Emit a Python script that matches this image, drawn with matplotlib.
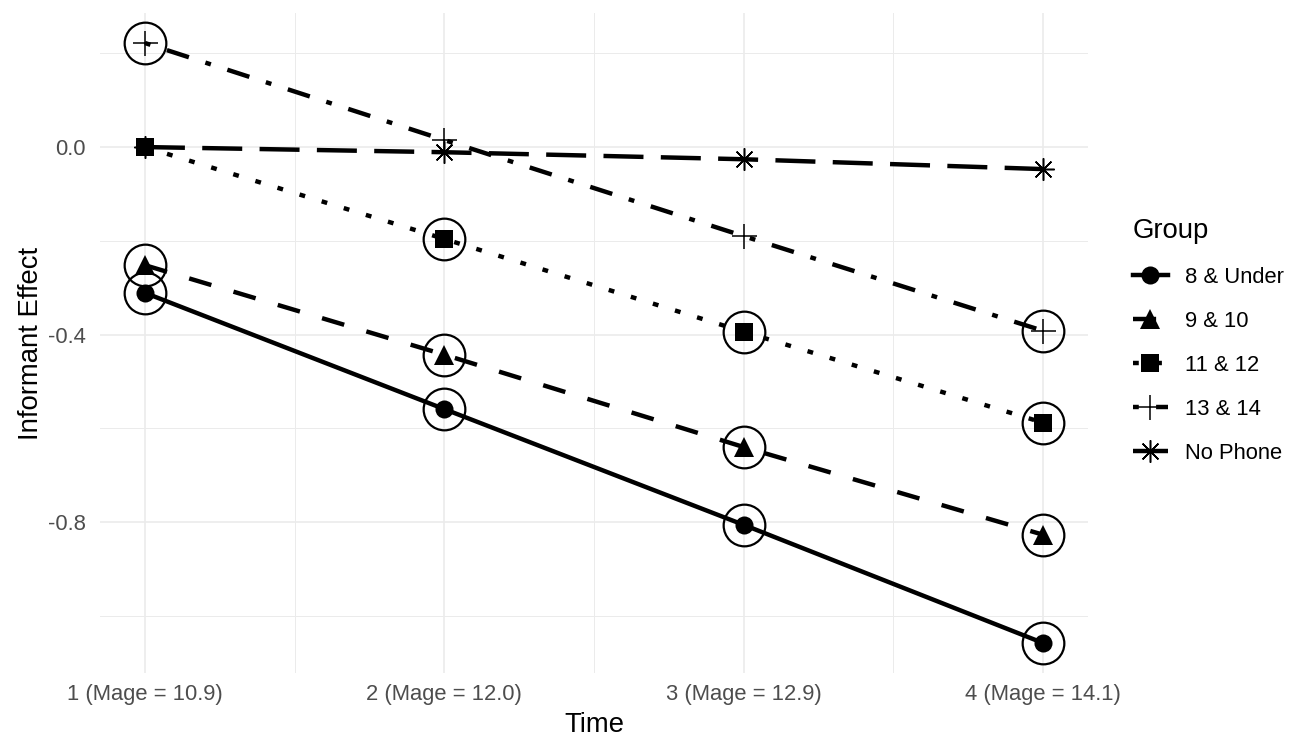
import matplotlib
matplotlib.use("Agg")
import matplotlib.pyplot as plt
from matplotlib.lines import Line2D

# data
times = [1, 2, 3, 4]
time_labels = ["1 (Mage = 10.9)", "2 (Mage = 12.0)", "3 (Mage = 12.9)", "4 (Mage = 14.1)"]
groups = ["8 & Under", "9 & 10", "11 & 12", "13 & 14", "No Phone"]
effects = {
    "8 & Under": [-0.311, -0.559, -0.806, -1.058],
    "9 & 10": [-0.252, -0.443, -0.640, -0.827],
    "11 & 12": [0.000, -0.196, -0.394, -0.588],
    "13 & 14": [0.222, 0.015, -0.190, -0.392],
    "No Phone": [0.000, -0.011, -0.026, -0.047],
}
significant = {
    "8 & Under": [True, True, True, True],
    "9 & 10": [True, True, True, True],
    "11 & 12": [False, True, True, True],
    "13 & 14": [True, False, False, True],
    "No Phone": [False, False, False, False],
}
y_ticks = [0.0, -0.4, -0.8]
y_tick_labels = ["0.0", "-0.4", "-0.8"]

plt.rcParams["font.family"] = ["Liberation Sans", "DejaVu Sans"]

# ggplot-like line types (units of line width)
styles = {
    "8 & Under": dict(ls="-", marker="o", ms=13, mew=0),
    "9 & 10": dict(ls=(0, (5.2, 5.2)), marker="^", ms=15, mew=0),
    "11 & 12": dict(ls=(0, (1.3, 3.9)), marker="s", ms=13, mew=0),
    "13 & 14": dict(ls=(0, (1.3, 3.9, 5.2, 3.9)), marker="+", ms=18, mew=1.1),
    "No Phone": dict(ls=(0, (9.0, 3.9)), marker=(8, 2, 0), ms=16, mew=1.1),
}
LW = 3.2

fig = plt.figure(figsize=(12.93, 7.40), dpi=100)
ax = fig.add_axes([100 / 1293, 1 - 673 / 740, 988 / 1293, 660 / 740])

handles = []
for g in groups:
    st = styles[g]
    ax.plot(times, effects[g], color="black", lw=LW, linestyle=st["ls"],
            dash_capstyle="butt", solid_capstyle="butt", zorder=3)
    ax.plot(times, effects[g], color="black", lw=0, marker=st["marker"],
            ms=st["ms"], mew=st["mew"], mec="black", mfc="black", zorder=4)
    sx = [t for t, s in zip(times, significant[g]) if s]
    sy = [v for v, s in zip(effects[g], significant[g]) if s]
    ax.plot(sx, sy, lw=0, marker="o", ms=30, mfc="none", mec="black",
            mew=1.6, zorder=5)
    handles.append(Line2D([], [], color="black", lw=LW, linestyle=st["ls"],
                          dash_capstyle="butt", marker=st["marker"],
                          ms=st["ms"], mew=st["mew"], mfc="black",
                          mec="black"))

ax.set_xlim(0.85, 4.15)
ax.set_ylim(-1.122, 0.286)
ax.set_xticks(times)
ax.set_xticklabels(time_labels)
ax.set_xticks([1.5, 2.5, 3.5], minor=True)
ax.set_yticks(y_ticks)
ax.set_yticklabels(y_tick_labels)
ax.set_yticks([0.2, -0.2, -0.6, -1.0], minor=True)
ax.grid(True, which="major", color="#EBEBEB", lw=1.2)
ax.grid(True, which="minor", color="#EBEBEB", lw=0.7)
ax.set_axisbelow(True)
for sp in ax.spines.values():
    sp.set_visible(False)
ax.tick_params(which="both", length=0)
ax.tick_params(axis="x", labelsize=15.8, labelcolor="#4D4D4D", pad=8)
ax.tick_params(axis="y", labelsize=15.8, labelcolor="#4D4D4D", pad=10)
ax.set_xlabel("Time", fontsize=19.8, labelpad=5)
ax.set_ylabel("Informant Effect", fontsize=19.8, labelpad=3)

leg = fig.legend(handles, groups, loc="upper left",
                 bbox_to_anchor=(1113 / 1293, 1 - 198 / 740),
                 frameon=False, fontsize=15.8, title="Group",
                 title_fontsize=19.8, handlelength=1.6, handletextpad=0.8,
                 labelspacing=1.05)
leg._legend_box.align = "left"

fig.savefig("out.png", dpi=100)
